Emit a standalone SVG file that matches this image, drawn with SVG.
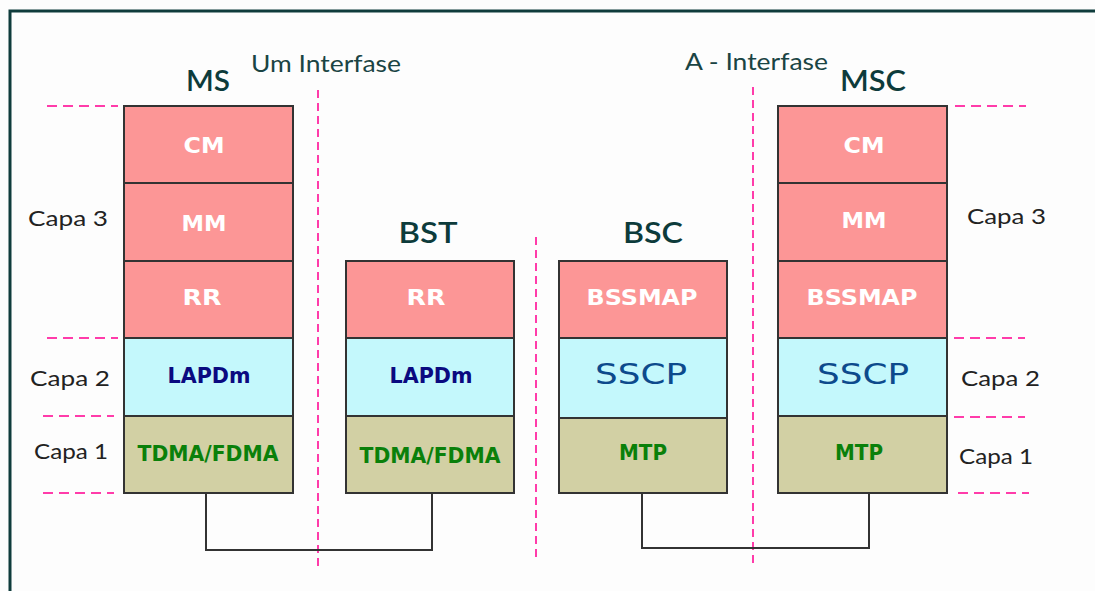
<svg xmlns="http://www.w3.org/2000/svg" width="1095" height="591" viewBox="0 0 1095 591">
  <style>
    .frame { fill: none; stroke: #0f3c3c; stroke-width: 3; }
    .l3 { fill: #fc9696; stroke: #333; stroke-width: 2; }
    .l2 { fill: #c4f8fc; stroke: #333; stroke-width: 2; }
    .l1 { fill: #d2d0a4; stroke: #333; stroke-width: 2; }
    .vdash { stroke: #ff3caa; stroke-width: 2; stroke-dasharray: 8 5; fill: none; }
    .hdash { stroke: #ff3caa; stroke-width: 2; stroke-dasharray: 10 6; fill: none; }
    .link { fill: none; stroke: #333; stroke-width: 2; }
    .title { font-family: Lato, "DejaVu Sans", sans-serif; font-size: 28px; font-weight: 600; fill: #0d3b3b; text-anchor: middle; }
    .iface { font-family: Lato, "DejaVu Sans", sans-serif; font-size: 23px; fill: #1a4444; }
    .capa { font-family: Lato, "DejaVu Sans", sans-serif; font-size: 22px; fill: #222; }
    .w { font-family: "DejaVu Sans", Verdana, sans-serif; font-weight: bold; font-size: 22px; fill: #fff; text-anchor: middle; }
    .lap { font-family: "DejaVu Sans", Verdana, sans-serif; font-weight: bold; font-size: 21px; fill: #0a0a80; text-anchor: middle; }
    .grn { font-family: "DejaVu Sans", Verdana, sans-serif; font-weight: bold; font-size: 21px; fill: #0a800a; text-anchor: middle; }
    .sscp { font-family: "DejaVu Sans", Verdana, sans-serif; font-size: 29px; fill: #0d4a8c; text-anchor: middle; }
  </style>

  <rect width="1095" height="591" fill="#fdfdfd"/>
  <!-- outer frame (top and left edges) -->
  <path class="frame" d="M10,591 V11 H1095"/>

  <!-- interface separators and layer guides -->
  <g id="guides">
    <line class="vdash" x1="318" y1="90" x2="318" y2="568"/>
    <line class="vdash" x1="536" y1="237" x2="536" y2="562"/>
    <line class="vdash" x1="753" y1="87" x2="753" y2="563"/>
    <line class="hdash" x1="47" y1="106" x2="118" y2="106"/>
    <line class="hdash" x1="47" y1="338" x2="118" y2="338"/>
    <line class="hdash" x1="43" y1="416" x2="114" y2="416"/>
    <line class="hdash" x1="43" y1="493" x2="114" y2="493"/>
    <line class="hdash" x1="955" y1="106" x2="1026" y2="106"/>
    <line class="hdash" x1="954" y1="338" x2="1025" y2="338"/>
    <line class="hdash" x1="954" y1="417" x2="1025" y2="417"/>
    <line class="hdash" x1="958" y1="493" x2="1029" y2="493"/>
  </g>

  <g id="labels">
    <text class="iface" x="251" y="72" textLength="150" lengthAdjust="spacingAndGlyphs">Um Interfase</text>
    <text class="iface" x="685" y="70" textLength="143" lengthAdjust="spacingAndGlyphs">A - Interfase</text>
    <text class="capa" x="28" y="226" textLength="80" lengthAdjust="spacingAndGlyphs">Capa 3</text>
    <text class="capa" x="30" y="386" textLength="80" lengthAdjust="spacingAndGlyphs">Capa 2</text>
    <text class="capa" x="34" y="459" textLength="74" lengthAdjust="spacingAndGlyphs">Capa 1</text>
    <text class="capa" x="967" y="224" textLength="79" lengthAdjust="spacingAndGlyphs">Capa 3</text>
    <text class="capa" x="961" y="386" textLength="79" lengthAdjust="spacingAndGlyphs">Capa 2</text>
    <text class="capa" x="959" y="464" textLength="74" lengthAdjust="spacingAndGlyphs">Capa 1</text>
  </g>

  <!-- links between physical layers -->
  <g id="connectors">
    <polyline class="link" points="206,493 206,550 432,550 432,493"/>
    <polyline class="link" points="642,493 642,548 869,548 869,493"/>
  </g>

  <g id="ms">
    <text class="title" x="208" y="91" textLength="44" lengthAdjust="spacingAndGlyphs">MS</text>
    <rect class="l3" x="124" y="106" width="169" height="77"/>
    <rect class="l3" x="124" y="183" width="169" height="78"/>
    <rect class="l3" x="124" y="261" width="169" height="77"/>
    <rect class="l2" x="124" y="338" width="169" height="78"/>
    <rect class="l1" x="124" y="416" width="169" height="77"/>
    <text class="w" x="204" y="153" textLength="41" lengthAdjust="spacingAndGlyphs">CM</text>
    <text class="w" x="204" y="231" textLength="45" lengthAdjust="spacingAndGlyphs">MM</text>
    <text class="w" x="202" y="305" textLength="39" lengthAdjust="spacingAndGlyphs">RR</text>
    <text class="lap" x="209" y="383" textLength="83" lengthAdjust="spacingAndGlyphs">LAPDm</text>
    <text class="grn" x="208" y="461" textLength="141" lengthAdjust="spacingAndGlyphs">TDMA/FDMA</text>
  </g>

  <g id="bst">
    <text class="title" x="428" y="243" textLength="59" lengthAdjust="spacingAndGlyphs">BST</text>
    <rect class="l3" x="346" y="261" width="168" height="77"/>
    <rect class="l2" x="346" y="338" width="168" height="78"/>
    <rect class="l1" x="346" y="416" width="168" height="77"/>
    <text class="w" x="426" y="305" textLength="39" lengthAdjust="spacingAndGlyphs">RR</text>
    <text class="lap" x="431" y="383" textLength="83" lengthAdjust="spacingAndGlyphs">LAPDm</text>
    <text class="grn" x="430" y="463" textLength="141" lengthAdjust="spacingAndGlyphs">TDMA/FDMA</text>
  </g>

  <g id="bsc">
    <text class="title" x="653" y="243" textLength="60" lengthAdjust="spacingAndGlyphs">BSC</text>
    <rect class="l3" x="559" y="261" width="168" height="77"/>
    <rect class="l2" x="559" y="338" width="168" height="80"/>
    <rect class="l1" x="559" y="418" width="168" height="75"/>
    <text class="w" x="642" y="305" textLength="111" lengthAdjust="spacingAndGlyphs">BSSMAP</text>
    <text class="sscp" x="641" y="384" textLength="92" lengthAdjust="spacingAndGlyphs">SSCP</text>
    <text class="grn" x="643" y="460" textLength="48" lengthAdjust="spacingAndGlyphs">MTP</text>
  </g>

  <g id="msc">
    <text class="title" x="873" y="91" textLength="66" lengthAdjust="spacingAndGlyphs">MSC</text>
    <rect class="l3" x="778" y="106" width="169" height="77"/>
    <rect class="l3" x="778" y="183" width="169" height="78"/>
    <rect class="l3" x="778" y="261" width="169" height="77"/>
    <rect class="l2" x="778" y="338" width="169" height="78"/>
    <rect class="l1" x="778" y="416" width="169" height="77"/>
    <text class="w" x="864" y="153" textLength="41" lengthAdjust="spacingAndGlyphs">CM</text>
    <text class="w" x="864" y="228" textLength="45" lengthAdjust="spacingAndGlyphs">MM</text>
    <text class="w" x="862" y="305" textLength="111" lengthAdjust="spacingAndGlyphs">BSSMAP</text>
    <text class="sscp" x="863" y="384" textLength="92" lengthAdjust="spacingAndGlyphs">SSCP</text>
    <text class="grn" x="859" y="460" textLength="48" lengthAdjust="spacingAndGlyphs">MTP</text>
  </g>
</svg>
